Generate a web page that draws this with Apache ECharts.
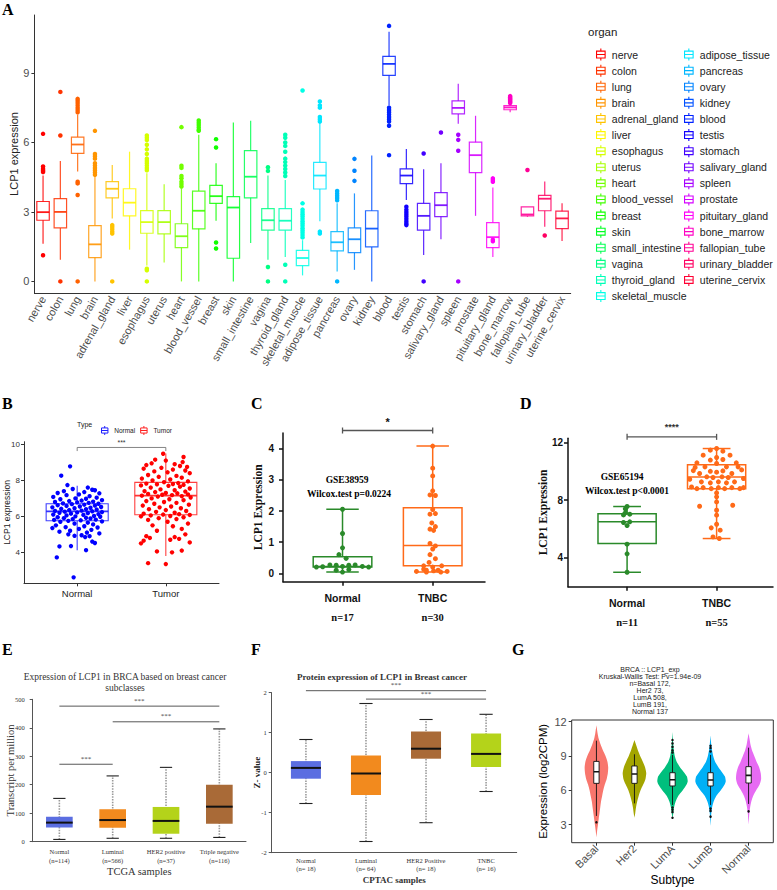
<!DOCTYPE html>
<html><head><meta charset="utf-8">
<script src="https://cdn.jsdelivr.net/npm/echarts@6/dist/echarts.min.js"></script>
<style>html,body{margin:0;padding:0;background:#fff}#c{width:777px;height:890px}</style>
</head><body><div id="c"></div>
<script>
// ---------------- Panel A ----------------
const organs = ['nerve','colon','lung','brain','adrenal_gland','liver','esophagus','uterus','heart','blood_vessel','breast','skin','small_intestine','vagina','thyroid_gland','skeletal_muscle','adipose_tissue','pancreas','ovary','kidney','blood','testis','stomach','salivary_gland','spleen','prostate','pituitary_gland','bone_marrow','fallopian_tube','urinary_bladder','uterine_cervix'];
const aMin = [1.63,0.94,4.74,0,2.72,1.37,0.69,0.82,0,0,2.62,0,1.66,0.94,1.05,0.26,2.6,0.43,0.5,0,7.59,3.51,1.14,1.82,6.81,2.83,1.05,7.3,2.79,2.36,1.75];
const aQ1 = [2.64,2.31,5.53,1.03,3.61,2.83,2.08,2.05,1.46,2.27,3.37,1.0,3.61,2.21,2.21,0.68,3.99,1.32,1.24,1.49,8.89,4.22,2.21,2.8,7.23,4.7,1.46,7.41,2.83,3.05,2.28];
const aMed = [2.99,3.0,5.91,1.6,4.0,3.4,2.56,2.56,1.95,3.05,3.68,3.19,4.52,2.64,2.62,1.01,4.57,1.69,1.82,2.28,9.39,4.57,2.83,3.29,7.49,5.45,1.91,7.51,2.89,3.57,2.72];
const aQ3 = [3.45,3.57,6.23,2.41,4.31,4.0,3.06,3.06,2.49,3.9,4.15,3.66,5.65,3.14,3.14,1.34,5.14,2.15,2.31,3.05,9.71,4.86,3.37,3.83,7.79,6.01,2.54,7.59,3.22,3.71,3.03];
const aMax = [4.57,5.2,7.2,4.52,5.03,5.6,4.67,4.19,4.02,6.33,5.1,6.86,6.94,4.57,4.38,1.78,6.84,3.37,3.8,5.43,10.78,5.72,4.84,5.1,8.53,7.15,4.05,7.63,3.22,4.31,3.37];
const aOutliers = [[0,6.37],[0,4.96],[0,4.85],[0,4.78],[0,4.72],[0,1.13],
[1,8.18],[1,6.3],[1,0],
[2,7.88],[2,7.8],[2,7.7],[2,7.6],[2,7.5],[2,7.4],[2,7.3],[2,4.3],[2,4.23],[2,3.73],[2,0],
[3,6.5],[3,5.5],[3,5.4],[3,5.3],[3,5.1],[3,5.0],[3,4.9],[3,4.8],[3,4.7],[3,4.6],
[4,2.43],[4,2.35],[4,2.25],[4,2.15],[4,2.07],[4,0],
[6,6.3],[6,6.2],[6,6.1],[6,5.9],[6,5.7],[6,5.5],[6,5.3],[6,5.2],[6,5.1],[6,5.0],[6,4.9],[6,4.8],[6,0.55],[6,0.48],[6,0],
[8,6.66],[8,4.99],[8,4.9],[8,4.55],[8,4.45],[8,4.3],[8,4.2],[8,4.1],
[9,6.95],[9,6.85],[9,6.75],[9,6.65],[9,6.55],[9,6.5],
[10,6.14],[10,5.78],[10,1.68],[10,1.42],
[13,4.93],[13,4.77],[13,0.62],[13,0],
[14,6.33],[14,6.2],[14,6.0],[14,5.85],[14,5.6],[14,5.3],[14,5.15],[14,5.0],[14,4.85],[14,4.7],[14,4.55],[14,0.72],[14,0],
[15,8.24],[15,3.37],[15,3.1],[15,3.0],[15,2.9],[15,2.8],[15,2.7],[15,2.6],[15,2.5],[15,2.4],[15,2.3],[15,2.2],[15,2.1],[15,2.0],[15,1.9],
[16,7.77],[16,7.6],[16,7.5],[16,7.1],[16,7.0],[16,6.9],[16,2.15],[16,2.07],
[17,3.9],[17,3.8],[17,3.7],[17,3.6],[17,3.5],[17,0],
[18,5.29],[18,4.78],[18,4.34],
[20,11.03],[20,7.5],[20,7.4],[20,7.3],[20,7.2],[20,7.1],[20,7.0],[20,6.9],[20,6.72],[20,5.45],
[21,3.22],[21,3.1],[21,3.0],[21,2.9],[21,2.8],[21,2.7],[21,2.6],[21,2.5],[21,2.43],
[22,5.52],[22,0],
[23,6.43],
[24,6.33],[24,6.11],[24,5.64],[24,0],
[26,4.45],[26,4.38],[26,4.3],[26,1.8],[26,1.73],
[27,8.0],[27,7.95],[27,7.9],[27,7.85],[27,7.8],[27,7.75],[27,7.7],
[28,4.81],
[29,1.98]];
const aTicks = [0,3,6,9];

// ---------------- Panel B ----------------
const bGroups = ['Normal','Tumor'];
const bStats = [[4.12,5.76,6.28,6.70,7.70],[3.80,6.09,7.15,7.89,9.50]];
const bNormalPts = [[-0.08,8.78],[-0.18,8.26],[-0.11,7.74],[0.12,7.6],[-0.05,7.52],[0.17,7.48],[0.2,7.45],[-0.15,7.4],[0.08,7.35],[-0.22,7.3],[0.25,7.28],[0.02,7.22],[-0.12,7.18],[0.14,7.12],[-0.27,7.08],[0.22,7.04],[-0.02,7.0],[0.1,6.98],[-0.19,6.95],[0.28,6.9],[0.05,6.88],[-0.09,6.85],[0.18,6.82],[-0.25,6.8],[0.0,6.78],[0.13,6.75],[-0.16,6.72],[0.24,6.7],[-0.06,6.68],[0.08,6.65],[-0.22,6.62],[0.2,6.6],[-0.12,6.58],[0.03,6.55],[0.27,6.52],[-0.28,6.5],[0.15,6.48],[-0.03,6.45],[-0.18,6.42],[0.1,6.4],[0.22,6.38],[-0.09,6.35],[0.05,6.32],[-0.25,6.3],[0.17,6.28],[-0.14,6.26],[0.28,6.24],[0.0,6.22],[-0.2,6.2],[0.12,6.18],[-0.07,6.15],[0.24,6.12],[-0.27,6.1],[0.07,6.08],[-0.12,6.05],[0.19,6.02],[-0.02,6.0],[0.26,5.98],[-0.22,5.95],[0.1,5.92],[-0.15,5.9],[0.15,5.88],[-0.05,5.85],[0.21,5.82],[-0.26,5.8],[0.04,5.78],[-0.1,5.75],[0.28,5.72],[-0.19,5.7],[0.12,5.65],[-0.03,5.6],[0.18,5.55],[-0.24,5.5],[0.08,5.45],[-0.13,5.4],[0.23,5.38],[-0.28,5.35],[0.02,5.3],[0.16,5.25],[-0.08,5.2],[-0.2,5.15],[0.11,5.1],[0.25,5.05],[-0.1,5.0],[0.05,4.95],[-0.03,4.92],[0.14,4.9],[0.09,4.85],[0.17,4.6],[0.2,4.52],[-0.07,4.35],[-0.2,4.33],[0.1,4.12],[-0.23,3.72],[-0.04,2.61]];
const bTumorPts = [[-0.03,9.48],[0.2,9.3],[-0.12,9.15],[0.0,9.1],[0.19,9.02],[-0.16,8.95],[0.1,8.9],[-0.22,8.85],[0.16,8.8],[0.24,8.75],[-0.05,8.7],[-0.25,8.65],[0.08,8.6],[0.22,8.55],[-0.13,8.5],[0.02,8.45],[0.27,8.4],[-0.2,8.3],[0.12,8.25],[-0.08,8.2],[0.18,8.15],[-0.27,8.1],[0.05,8.05],[-0.15,8.0],[0.25,7.95],[-0.02,7.9],[0.14,7.85],[-0.22,7.82],[0.08,7.8],[-0.1,7.78],[0.2,7.75],[-0.28,7.72],[0.03,7.7],[0.16,7.65],[-0.17,7.6],[0.27,7.55],[-0.06,7.5],[0.1,7.45],[-0.24,7.4],[0.22,7.38],[-0.12,7.35],[0.0,7.3],[0.13,7.28],[-0.2,7.25],[0.25,7.22],[-0.04,7.2],[0.07,7.18],[-0.27,7.15],[0.18,7.12],[-0.09,7.1],[0.28,7.05],[-0.16,7.0],[0.04,6.95],[0.2,6.9],[-0.22,6.85],[-0.02,6.8],[0.12,6.75],[-0.13,6.7],[0.26,6.65],[-0.26,6.6],[0.06,6.55],[-0.07,6.5],[0.17,6.45],[-0.19,6.4],[0.0,6.35],[0.23,6.3],[-0.11,6.25],[0.1,6.2],[-0.25,6.15],[0.15,6.12],[-0.03,6.1],[0.27,6.08],[-0.17,6.05],[0.05,6.02],[-0.28,6.0],[0.2,5.95],[-0.08,5.9],[0.12,5.85],[-0.2,5.8],[0.02,5.7],[0.25,5.6],[-0.15,5.5],[0.08,5.45],[0.18,5.3],[-0.1,5.2],[0.22,5.0],[-0.22,4.9],[0.1,4.85],[-0.18,4.8],[0.15,4.75],[0.05,4.7],[-0.25,4.65],[0.27,4.55],[-0.28,4.5],[0.18,4.1],[-0.1,4.05],[0.07,4.0],[-0.2,3.4],[0.0,3.35]];
const bTicks = [4,6,8,10];
const bSig = [[0,1,9.83,9.63,'***']];

// ---------------- Panel C ----------------
const cGroups = ['Normal','TNBC'];
const cN = [17,30];
const cStats = [[0.04,0.2,0.22,0.53,2.06],[0.04,0.24,0.89,2.11,4.09]];
const cNormalPts = [[0,2.06],[0,1.28],[0,0.82],[-0.04,0.6],[0.04,0.48],[-0.14,0.27],[-0.07,0.26],[0.07,0.26],[0.14,0.27],[-0.29,0.2],[-0.22,0.21],[0.22,0.22],[0.29,0.2],[0,0.22],[-0.07,0.1],[0.07,0.12],[0,0.04]];
const cTnbcPts = [[0,4.09],[0,3.38],[0,3.13],[0,2.65],[-0.03,2.52],[0.03,2.5],[0,2.05],[-0.03,1.9],[0.03,1.92],[-0.01,1.62],[0.03,1.5],[-0.03,1.42],[0.01,1.38],[-0.03,0.96],[0.03,0.88],[0,0.78],[-0.03,0.6],[0.03,0.47],[-0.04,0.35],[-0.1,0.24],[0,0.2],[0.1,0.24],[-0.1,0.13],[-0.07,0.1],[0.01,0.08],[0.06,0.1],[-0.18,0.06],[0.16,0.06],[0.09,0.04],[-0.07,0.04]];
const cTicks = [0,1,2,3,4];
const cSig = [[0,1,4.59,4.59,'*']];

// ---------------- Panel D ----------------
const dGroups = ['Normal','TNBC'];
const dN = [11,55];
const dStats = [[3.0,5.0,6.5,7.05,7.56],[5.34,8.79,9.6,10.45,11.58]];
const dNormalPts = [[0,7.56],[-0.02,7.4],[-0.02,7.12],[0.03,7.03],[-0.04,6.98],[0.03,6.5],[-0.04,6.45],[0,6.24],[0,4.95],[0,4.28],[0,3.0]];
const dTnbcPts = [[0,11.58],[-0.07,11.47],[0.07,11.4],[-0.15,11.12],[0.15,11.12],[0,10.96],[-0.07,10.78],[0.07,10.82],[-0.22,10.59],[0.22,10.59],[0,10.54],[-0.24,10.27],[-0.13,10.31],[0.11,10.31],[0.24,10.31],[-0.07,10.0],[0,9.94],[0.07,10.03],[-0.19,9.85],[0.17,9.85],[-0.11,9.62],[-0.04,9.57],[0.06,9.62],[0.13,9.57],[-0.17,9.27],[-0.07,9.2],[0.02,9.27],[0.11,9.2],[0.2,9.27],[-0.28,8.92],[-0.22,8.8],[-0.15,8.87],[-0.06,8.8],[0.02,8.87],[0.09,8.8],[0.17,8.87],[0.26,8.8],[0.3,8.87],[0,8.5],[0,8.23],[0,7.88],[-0.19,7.58],[0.18,7.65],[0,7.3],[0,6.96],[0,6.33],[-0.06,6.08],[0.04,5.92],[-0.04,5.45],[0.03,5.34],[-0.26,10.05],[0.28,10.1],[-0.3,9.45],[0.3,9.5]];
const dTicks = [4,8,12];
const dSig = [[0,1,12.39,12.39,'****']];

// ---------------- Panel E ----------------
const eCats = ['Normal\n(n=114)','Luminal\n(n=566)','HER2 positive\n(n=37)','Triple negative\n(n=116)'];
const eStats = [[8,50,67,88,152],[12,49,76,114,231],[12,28,73,122,261],[15,63,123,200,396]];
const eSig = [[0,3,476,476,'***'],[1,3,421,421,'***'],[0,1,272,272,'***']];

// ---------------- Panel F ----------------
const fCats = ['Normal\n(n= 18)','Luminal\n(n= 64)','HER2 Positive\n(n= 18)','TNBC\n(n= 16)'];
const fStats = [[-0.77,-0.15,0.12,0.29,0.83],[-1.72,-0.56,-0.02,0.43,1.73],[-1.25,0.35,0.6,1.03,1.33],[-0.47,0.14,0.47,0.98,1.46]];
const fSig = [[0,3,2.05,2.05,'***'],[1,3,1.84,1.84,'***']];

// ---------------- Panel G ----------------
const gSubtypes = ['Basal','Her2','LumA','LumB','Normal'];
const gStats = [[3.76,6.61,7.63,8.53,10.34],[4.86,6.61,7.43,8.13,9.15],[4.72,6.38,6.93,7.54,9.09],[4.72,6.38,6.9,7.54,9.09],[4.81,6.64,7.31,8.07,9.73]];
const gBasalProfile = [[1.9,0],[2.5,0.02],[3,0.04],[3.5,0.06],[4,0.08],[4.5,0.1],[5,0.12],[5.5,0.15],[6,0.18],[6.5,0.22],[7,0.27],[7.5,0.3],[8,0.31],[8.5,0.29],[9,0.24],[9.5,0.17],[10,0.11],[10.5,0.06],[11,0.03],[11.7,0]];
const gHer2Profile = [[3.6,0],[4,0.02],[4.5,0.04],[5,0.07],[5.5,0.11],[6,0.16],[6.5,0.23],[7,0.29],[7.5,0.31],[8,0.28],[8.5,0.22],[9,0.15],[9.5,0.09],[10,0.04],[10.4,0]];
const gLumAProfile = [[3.5,0],[4,0.02],[4.5,0.04],[5,0.08],[5.5,0.15],[6,0.27],[6.5,0.37],[6.8,0.4],[7.2,0.38],[7.5,0.32],[8,0.2],[8.5,0.11],[9,0.06],[9.5,0.035],[10,0.02],[10.5,0.01],[11.1,0]];
const gLumBProfile = [[2.9,0],[3.5,0.01],[4,0.02],[4.5,0.04],[5,0.08],[5.5,0.15],[6,0.27],[6.5,0.37],[6.8,0.4],[7.2,0.38],[7.5,0.32],[8,0.21],[8.5,0.12],[9,0.07],[9.5,0.04],[10,0.02],[10.8,0]];
const gNormalProfile = [[3.0,0],[3.5,0.01],[4,0.02],[4.5,0.04],[5,0.07],[5.5,0.12],[6,0.2],[6.5,0.29],[7,0.33],[7.5,0.32],[8,0.28],[8.5,0.21],[9,0.15],[9.5,0.09],[10,0.05],[10.5,0.025],[11,0]];
const gOutliers = [[0,3.2],[2,10.4],[2,10.1],[2,9.8],[2,9.5],[2,9.3],[2,4.5],[2,4.3],[2,4.1],[2,3.6],[3,9.9],[3,9.7],[3,9.4],[3,4.4],[3,4.2],[3,3.7],[4,4.16]];
const gTicks = [3,6,9,12];

// ---------------- styles ----------------
const sans = 'Liberation Sans, Arial, Helvetica, sans-serif';
const serif = 'Liberation Serif, Times New Roman, serif';
const aColors = organs.map((o, i) => 'hsl(' + Math.round(i * 360 / 31) + ',100%,50%)');
const bColors = ['#1f1fff', '#ff1f1f'];
const cdColors = ['#2a8a2a', '#ff6a18'];
const eColors = ['#5b6ee1', '#f28a1e', '#b4d31a', '#a96a37'];
const fColors = ['#5b6ee1', '#f28a1e', '#a96a37', '#b4d31a'];
const gColors = ['#F8766D', '#A3A500', '#00BF7D', '#00B0F6', '#E76BF3'];
const gProfiles = [gBasalProfile, gHer2Profile, gLumAProfile, gLumBProfile, gNormalProfile];
const boxIcon = 'path://M6,0L6,3M1,3L11,3L11,11L1,11ZM1,7L11,7M6,11L6,14';

const seg = (x1, y1, x2, y2, style) => ({type: 'line', shape: {x1, y1, x2, y2}, style});
function boxGeom(api) {
  const x = api.value(0);
  const y = [1, 2, 3, 4, 5].map(k => api.coord([x, api.value(k)])[1]);
  const cx = api.coord([x, api.value(3)])[0];
  const u = api.size([1, 0])[0];
  return {y, cx, u};
}
function ggBox(colors, bw, lw) {
  return function (params, api) {
    const c = colors[params.dataIndex];
    const g = boxGeom(api), y = g.y, cx = g.cx, hw = g.u * bw / 2;
    const st = {stroke: c, lineWidth: lw, fill: 'none', opacity: 0.85};
    return {type: 'group', children: [
      seg(cx, y[4], cx, y[3], st),
      seg(cx, y[1], cx, y[0], st),
      {type: 'rect', shape: {x: cx - hw, y: y[3], width: 2 * hw, height: y[1] - y[3]}, style: st},
      seg(cx - hw, y[2], cx + hw, y[2], {stroke: c, lineWidth: lw * 1.5, opacity: 0.9})
    ]};
  };
}
function gpBox(colors, bw, cw, lw) {
  return function (params, api) {
    const c = colors[params.dataIndex];
    const g = boxGeom(api), y = g.y, cx = g.cx, hw = g.u * bw / 2, hc = g.u * cw / 2;
    const st = {stroke: c, lineWidth: lw, fill: 'none'};
    return {type: 'group', children: [
      seg(cx, y[4], cx, y[3], st),
      seg(cx, y[1], cx, y[0], st),
      seg(cx - hc, y[0], cx + hc, y[0], st),
      seg(cx - hc, y[4], cx + hc, y[4], st),
      {type: 'rect', shape: {x: cx - hw, y: y[3], width: 2 * hw, height: y[1] - y[3]}, style: st},
      seg(cx - hw, y[2], cx + hw, y[2], st)
    ]};
  };
}
function ufBox(colors, bw, cw) {
  return function (params, api) {
    const c = colors[params.dataIndex];
    const g = boxGeom(api), y = g.y, cx = g.cx, hw = g.u * bw / 2, hc = g.u * cw / 2;
    return {type: 'group', children: [
      seg(cx, y[0], cx, y[4], {stroke: '#9a9a9a', lineWidth: 1.6, lineDash: [1.5, 1.2]}),
      seg(cx - hc, y[0], cx + hc, y[0], {stroke: '#222', lineWidth: 1.1}),
      seg(cx - hc, y[4], cx + hc, y[4], {stroke: '#222', lineWidth: 1.1}),
      {type: 'rect', shape: {x: cx - hw, y: y[3], width: 2 * hw, height: y[1] - y[3]}, style: {fill: c, stroke: null}},
      seg(cx - hw, y[2], cx + hw, y[2], {stroke: '#111', lineWidth: 2})
    ]};
  };
}
function violin(params, api) {
  const i = params.dataIndex;
  const x = api.value(0);
  const prof = gProfiles[i];
  const right = prof.map(p => api.coord([x + p[1], p[0]]));
  const left = prof.slice().reverse().map(p => api.coord([x - p[1], p[0]]));
  const g = boxGeom(api), y = g.y, cx = g.cx, hw = g.u * 0.07;
  const bl = {stroke: '#111', lineWidth: 0.9};
  return {type: 'group', children: [
    {type: 'polygon', shape: {points: right.concat(left), smooth: 0.2}, style: {fill: gColors[i], stroke: null}},
    seg(cx, y[4], cx, y[3], bl),
    seg(cx, y[1], cx, y[0], bl),
    {type: 'rect', shape: {x: cx - hw, y: y[3], width: 2 * hw, height: y[1] - y[3]}, style: {fill: '#fff', stroke: '#111', lineWidth: 0.9}},
    seg(cx - hw, y[2], cx + hw, y[2], {stroke: '#111', lineWidth: 1.6})
  ]};
}
function sigSeries(xi, yi, list, o) {
  return {type: 'custom', xAxisIndex: xi, yAxisIndex: yi, clip: false, silent: true, z: 6,
    data: list.map(s => [s[0], s[1], s[2], s[3]]),
    renderItem: function (params, api) {
      const s = list[params.dataIndex];
      const p1 = api.coord([api.value(0), api.value(2)]);
      const p2 = api.coord([api.value(1), api.value(2)]);
      const e1 = api.coord([api.value(0), api.value(3)]);
      const e2 = api.coord([api.value(1), api.value(3)]);
      const st = {stroke: o.color, lineWidth: o.lw, fill: null};
      const ch = [{type: 'polyline', shape: {points: [[e1[0], e1[1]], [p1[0], p1[1]], [p2[0], p2[1]], [e2[0], e2[1]]]}, style: st}];
      if (o.cap) {
        ch.push(seg(p1[0], p1[1] - o.cap, p1[0], p1[1] + o.cap, st));
        ch.push(seg(p2[0], p2[1] - o.cap, p2[0], p2[1] + o.cap, st));
      }
      ch.push({type: 'text', x: (p1[0] + p2[0]) / 2, y: p1[1] - o.gap,
        style: {text: s[4], fill: o.tcolor, fontSize: o.fs, fontFamily: o.ff, fontWeight: o.fw || 'normal', align: 'center', verticalAlign: 'bottom'}});
      return {type: 'group', children: ch};
    }};
}
const pts = (g, arr) => arr.map(p => [g + p[0], p[1]]);
const T = (text, left, top, style, align) => ({text, left, top, padding: 0, textAlign: align || 'left',
  textStyle: Object.assign({fontFamily: sans, fontWeight: 'normal', fontSize: 11, color: '#000'}, style)});
const letter = {fontFamily: serif, fontWeight: 'bold', fontSize: 16, color: '#000'};
const line = (color, width) => ({show: true, onZero: false, lineStyle: {color: color, width: width || 1}});

const option = {
  animation: false,
  backgroundColor: '#fff',
  textStyle: {fontFamily: sans},
  title: [
    T('A', 2, 1, letter), T('B', 2, 395, letter), T('C', 251, 395, letter), T('D', 520, 395, letter),
    T('E', 2, 641, letter), T('F', 251, 641, letter), T('G', 512, 641, letter),
    T('organ', 588, 26, {fontSize: 11.5, color: '#222'}),
    T('Type', 77, 421, {fontSize: 7, color: '#222'}),
    T('GSE38959', 347, 475, {fontFamily: serif, fontWeight: 'bold', fontSize: 9.5}, 'center'),
    T('Wilcox.test p=0.0224', 349, 489, {fontFamily: serif, fontWeight: 'bold', fontSize: 9.5}, 'center'),
    T('GSE65194', 622, 472, {fontFamily: serif, fontWeight: 'bold', fontSize: 9.5}, 'center'),
    T('Wilcox.test p<0.0001', 627, 486, {fontFamily: serif, fontWeight: 'bold', fontSize: 9.5}, 'center'),
    T('Expression of LCP1 in BRCA based on breast cancer\nsubclasses', 125, 671, {fontFamily: serif, fontSize: 9.5, lineHeight: 11, color: '#333'}, 'center'),
    T('Protein expression of LCP1 in Breast cancer', 382, 672, {fontFamily: serif, fontWeight: 'bold', fontSize: 9, color: '#333'}, 'center'),
    T('BRCA :: LCP1_exp\nKruskal-Wallis Test: Pv=1.94e-09\nn=Basal 172,\nHer2 73,\nLumA 508,\nLumB 191,\nNormal 137', 650, 666, {fontSize: 7, lineHeight: 7, color: '#222'}, 'center')
  ],
  legend: [
    {orient: 'vertical', left: 591, top: 43, itemWidth: 12, itemHeight: 12, itemGap: 3, selectedMode: false,
      textStyle: {fontSize: 10.5, color: '#222', fontFamily: sans},
      data: organs.slice(0, 16).map((n, i) => ({name: n, icon: boxIcon, itemStyle: {color: '#fff', borderColor: aColors[i], borderWidth: 1.1}}))},
    {orient: 'vertical', left: 679, top: 43, itemWidth: 12, itemHeight: 12, itemGap: 3, selectedMode: false,
      textStyle: {fontSize: 10.5, color: '#222', fontFamily: sans},
      data: organs.slice(16).map((n, i) => ({name: n, icon: boxIcon, itemStyle: {color: '#fff', borderColor: aColors[i + 16], borderWidth: 1.1}}))},
    {orient: 'horizontal', left: 96, top: 420.5, itemWidth: 9, itemHeight: 9, itemGap: 5, selectedMode: false,
      textStyle: {fontSize: 6.5, color: '#222', fontFamily: sans},
      data: bGroups.map((n, i) => ({name: n, icon: boxIcon, itemStyle: {color: '#fff', borderColor: bColors[i], borderWidth: 1}}))}
  ],
  grid: [
    {left: 34.4, top: 15, width: 536.3, height: 278, outerBoundsMode: 'none'},
    {left: 24, top: 441.7, width: 195, height: 141.6, outerBoundsMode: 'none'},
    {left: 283, top: 433, width: 202, height: 148.7, outerBoundsMode: 'none'},
    {left: 568, top: 438.3, width: 205, height: 148.4, outerBoundsMode: 'none'},
    {left: 32.7, top: 699.3, width: 213.3, height: 142.4, outerBoundsMode: 'none'},
    {left: 271.7, top: 692.7, width: 245, height: 160, outerBoundsMode: 'none'},
    {left: 571.7, top: 720, width: 201.6, height: 122.7, show: true, borderColor: '#333', borderWidth: 1, backgroundColor: 'transparent', outerBoundsMode: 'none'}
  ],
  xAxis: [
    {type: 'category', gridIndex: 0, data: organs, boundaryGap: true,
      axisLine: line('#333'),
      axisTick: {alignWithLabel: true, length: 3, lineStyle: {color: '#333'}},
      axisLabel: {rotate: 60, interval: 0, fontSize: 11, color: '#4d4d4d', margin: 4, fontFamily: sans},
      splitLine: {show: false}},
    {type: 'value', gridIndex: 1, min: -0.6, max: 1.6,
      axisLine: line('#333'),
      axisTick: {customValues: [0, 1], length: 3, lineStyle: {color: '#333'}},
      axisLabel: {customValues: [0, 1], formatter: v => bGroups[v], fontSize: 9.5, color: '#222', margin: 5},
      splitLine: {show: false}},
    {type: 'value', gridIndex: 2, min: -0.66, max: 1.58,
      axisLine: line('#111', 1.5),
      axisTick: {customValues: [0, 1], length: 4, lineStyle: {color: '#111', width: 1.5}},
      axisLabel: {customValues: [0, 1], margin: 6, formatter: v => '{a|' + cGroups[v] + '}\n{b|n=' + cN[v] + '}',
        rich: {a: {fontFamily: sans, fontWeight: 'bold', fontSize: 10.5, lineHeight: 20, color: '#111'},
               b: {fontFamily: serif, fontWeight: 'bold', fontSize: 10.5, lineHeight: 20, color: '#111'}}},
      splitLine: {show: false}},
    {type: 'value', gridIndex: 3, min: -0.66, max: 1.63,
      axisLine: line('#111', 1.5),
      axisTick: {customValues: [0, 1], length: 4, lineStyle: {color: '#111', width: 1.5}},
      axisLabel: {customValues: [0, 1], margin: 6, formatter: v => '{a|' + dGroups[v] + '}\n{b|n=' + dN[v] + '}',
        rich: {a: {fontFamily: sans, fontWeight: 'bold', fontSize: 10.5, lineHeight: 20, color: '#111'},
               b: {fontFamily: serif, fontWeight: 'bold', fontSize: 10.5, lineHeight: 20, color: '#111'}}},
      splitLine: {show: false}},
    {type: 'category', gridIndex: 4, data: eCats, boundaryGap: true,
      axisLine: line('#555'), axisTick: {show: false},
      axisLabel: {interval: 0, fontFamily: serif, fontSize: 6.5, lineHeight: 9, color: '#333', margin: 5},
      name: 'TCGA samples', nameLocation: 'middle', nameGap: 24, nameMoveOverlap: false,
      nameTextStyle: {fontFamily: serif, fontSize: 10.5, color: '#333'}},
    {type: 'value', gridIndex: 5, min: -0.57, max: 3.51,
      axisLine: line('#555'), axisTick: {show: false},
      axisLabel: {customValues: [0, 1, 2, 3], formatter: v => fCats[v], fontFamily: serif, fontSize: 6.5, lineHeight: 8, color: '#333', margin: 4},
      splitLine: {show: false},
      name: 'CPTAC samples', nameLocation: 'middle', nameGap: 23, nameMoveOverlap: false,
      nameTextStyle: {fontFamily: serif, fontWeight: 'bold', fontSize: 9, color: '#333'}},
    {type: 'value', gridIndex: 6, min: -0.65, max: 4.65,
      axisLine: {show: false, onZero: false},
      axisTick: {customValues: [0, 1, 2, 3, 4], length: 3, lineStyle: {color: '#333'}},
      axisLabel: {customValues: [0, 1, 2, 3, 4], formatter: v => gSubtypes[v], rotate: 45, fontSize: 11, color: '#4d4d4d', margin: 4},
      splitLine: {show: false},
      name: 'Subtype', nameLocation: 'middle', nameGap: 31, nameMoveOverlap: false, nameTextStyle: {fontSize: 12, color: '#000'}}
  ],
  yAxis: [
    {type: 'value', gridIndex: 0, min: -0.5, max: 11.5,
      axisLine: line('#333'),
      axisTick: {show: true, customValues: aTicks, length: 3, lineStyle: {color: '#333'}},
      axisLabel: {customValues: aTicks, fontSize: 11, color: '#4d4d4d', margin: 5},
      splitLine: {show: false},
      name: 'LCP1 expression', nameLocation: 'middle', nameGap: 15, nameMoveOverlap: false, nameTextStyle: {fontSize: 11, color: '#222'}},
    {type: 'value', gridIndex: 1, min: 2.28, max: 10.15,
      axisLine: line('#333'),
      axisTick: {show: true, customValues: bTicks, length: 3, lineStyle: {color: '#333'}},
      axisLabel: {customValues: bTicks, fontSize: 8, color: '#333', margin: 4},
      splitLine: {show: false},
      name: 'LCP1 expression', nameLocation: 'middle', nameGap: 13, nameMoveOverlap: false, nameTextStyle: {fontSize: 8.5, color: '#222'}},
    {type: 'value', gridIndex: 2, min: -0.27, max: 4.51,
      axisLine: line('#111', 1.5),
      axisTick: {show: true, customValues: cTicks, length: 4, lineStyle: {color: '#111', width: 1.5}},
      axisLabel: {customValues: cTicks, fontSize: 10, fontWeight: 'bold', color: '#111', margin: 9},
      splitLine: {show: false},
      name: 'LCP1 Expression', nameLocation: 'middle', nameGap: 19, nameMoveOverlap: false, nameTextStyle: {fontFamily: serif, fontWeight: 'bold', fontSize: 11.5, color: '#111'}},
    {type: 'value', gridIndex: 3, min: 2, max: 12.29,
      axisLine: line('#111', 1.5),
      axisTick: {show: true, customValues: dTicks, length: 4, lineStyle: {color: '#111', width: 1.5}},
      axisLabel: {customValues: dTicks, fontSize: 10, fontWeight: 'bold', color: '#111', margin: 5},
      splitLine: {show: false},
      name: 'LCP1 Expression', nameLocation: 'middle', nameGap: 19, nameMoveOverlap: false, nameTextStyle: {fontFamily: serif, fontWeight: 'bold', fontSize: 11.5, color: '#111'}},
    {type: 'value', gridIndex: 4, min: 0, max: 500, interval: 100,
      axisLine: line('#555'),
      axisTick: {show: true, length: 3, lineStyle: {color: '#555'}},
      axisLabel: {fontFamily: serif, fontSize: 6.5, color: '#333', margin: 8},
      splitLine: {show: false},
      name: 'Transcript per million', nameLocation: 'middle', nameGap: 17, nameMoveOverlap: false, nameTextStyle: {fontFamily: serif, fontSize: 10.5, color: '#333'}},
    {type: 'value', gridIndex: 5, min: -2, max: 2, interval: 1,
      axisLine: line('#555'),
      axisTick: {show: true, length: 3, lineStyle: {color: '#555'}},
      axisLabel: {fontFamily: serif, fontSize: 6.5, color: '#333', margin: 5},
      splitLine: {show: false},
      name: 'Z- value', nameLocation: 'middle', nameGap: 10.5, nameMoveOverlap: false, nameTextStyle: {fontFamily: serif, fontWeight: 'bold', fontSize: 9, color: '#222'}},
    {type: 'value', gridIndex: 6, min: 1.42, max: 12.15,
      axisLine: {show: false, onZero: false},
      axisTick: {show: true, customValues: gTicks, length: 3, lineStyle: {color: '#333'}},
      axisLabel: {customValues: gTicks, fontSize: 11, color: '#4d4d4d', margin: 5},
      splitLine: {show: false},
      name: 'Expression (log2CPM)', nameLocation: 'middle', nameGap: 23, nameMoveOverlap: false, nameTextStyle: {fontSize: 11.5, color: '#000'}}
  ],
  series: [].concat(
    organs.map((name, i) => ({type: 'custom', name, xAxisIndex: 0, yAxisIndex: 0, silent: true, z: 2,
      itemStyle: {color: aColors[i]},
      data: [[i, aMin[i], aQ1[i], aMed[i], aQ3[i], aMax[i]]],
      renderItem: ggBox([aColors[i]], 0.72, 1.2)})),
    [{type: 'scatter', xAxisIndex: 0, yAxisIndex: 0, symbolSize: 4.5, silent: true, z: 3,
      data: aOutliers.map(o => ({value: [o[0], o[1]], itemStyle: {color: aColors[o[0]], opacity: 1}}))}],
    bGroups.map((name, i) => ({type: 'custom', name, xAxisIndex: 1, yAxisIndex: 1, silent: true, z: 2,
      itemStyle: {color: bColors[i]},
      data: [[i].concat(bStats[i])],
      renderItem: ggBox([bColors[i]], 0.7, 1.1)})),
    [{type: 'scatter', xAxisIndex: 1, yAxisIndex: 1, symbolSize: 4.4, silent: true, z: 3, itemStyle: {color: '#0000ff', opacity: 1}, data: pts(0, bNormalPts)},
     {type: 'scatter', xAxisIndex: 1, yAxisIndex: 1, symbolSize: 4.4, silent: true, z: 3, itemStyle: {color: '#ff0000', opacity: 1}, data: pts(1, bTumorPts)},
     sigSeries(1, 1, bSig, {color: '#666', lw: 0.8, gap: 1, tcolor: '#333', fs: 7, ff: sans}),
     {type: 'custom', xAxisIndex: 2, yAxisIndex: 2, silent: true, z: 2, data: cStats.map((s, i) => [i].concat(s)), renderItem: gpBox(cdColors, 0.65, 0.36, 1.5)},
     {type: 'scatter', xAxisIndex: 2, yAxisIndex: 2, symbolSize: 5, silent: true, z: 3, itemStyle: {color: cdColors[0], opacity: 1}, data: pts(0, cNormalPts)},
     {type: 'scatter', xAxisIndex: 2, yAxisIndex: 2, symbolSize: 5, silent: true, z: 3, itemStyle: {color: cdColors[1], opacity: 1}, data: pts(1, cTnbcPts)},
     sigSeries(2, 2, cSig, {color: '#555', lw: 1.3, cap: 3, gap: 3, tcolor: '#111', fs: 11, ff: sans, fw: 'bold'}),
     {type: 'custom', xAxisIndex: 3, yAxisIndex: 3, silent: true, z: 2, data: dStats.map((s, i) => [i].concat(s)), renderItem: gpBox(cdColors, 0.65, 0.31, 1.5)},
     {type: 'scatter', xAxisIndex: 3, yAxisIndex: 3, symbolSize: 5, silent: true, z: 3, itemStyle: {color: cdColors[0], opacity: 1}, data: pts(0, dNormalPts)},
     {type: 'scatter', xAxisIndex: 3, yAxisIndex: 3, symbolSize: 5, silent: true, z: 3, itemStyle: {color: cdColors[1], opacity: 1}, data: pts(1, dTnbcPts)},
     sigSeries(3, 3, dSig, {color: '#555', lw: 1.3, cap: 3, gap: 5, tcolor: '#333', fs: 9, ff: sans, fw: 'bold'}),
     {type: 'custom', xAxisIndex: 4, yAxisIndex: 4, silent: true, z: 2, data: eStats.map((s, i) => [i].concat(s)), renderItem: ufBox(eColors, 0.5, 0.23)},
     sigSeries(4, 4, eSig, {color: '#444', lw: 0.9, gap: 2, tcolor: '#444', fs: 7, ff: serif}),
     {type: 'custom', xAxisIndex: 5, yAxisIndex: 5, silent: true, z: 2, data: fStats.map((s, i) => [i].concat(s)), renderItem: ufBox(fColors, 0.5, 0.22)},
     sigSeries(5, 5, fSig, {color: '#444', lw: 0.9, gap: 2, tcolor: '#444', fs: 7, ff: serif}),
     {type: 'custom', xAxisIndex: 6, yAxisIndex: 6, silent: true, z: 2, clip: true, data: gStats.map((s, i) => [i].concat(s)), renderItem: violin},
     {type: 'scatter', xAxisIndex: 6, yAxisIndex: 6, symbolSize: 2.5, silent: true, z: 4, itemStyle: {color: '#111', opacity: 1}, data: gOutliers}]
  )
};
const chart = echarts.init(document.getElementById('c'), null, {renderer: 'svg', width: 777, height: 890});
chart.setOption(option);
</script></body></html>
